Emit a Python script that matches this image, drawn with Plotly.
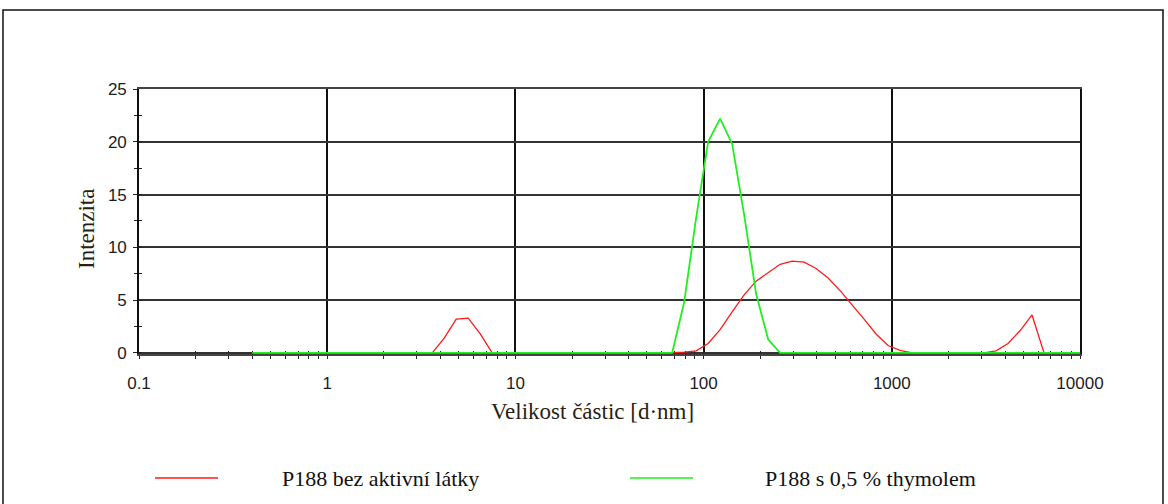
import plotly.graph_objects as go

# Size bins (d.nm), Zetasizer log-spaced classes 0.4 .. 10000
size_nm = [0.4, 0.4632, 0.5365, 0.6213, 0.7195, 0.8332, 0.9649, 1.117, 1.294, 1.499,
           1.736, 2.010, 2.328, 2.696, 3.122, 3.615, 4.187, 4.849, 5.615, 6.503,
           7.531, 8.721, 10.10, 11.70, 13.54, 15.69, 18.17, 21.04, 24.36, 28.21,
           32.67, 37.84, 43.82, 50.75, 58.77, 68.06, 78.82, 91.28, 105.7, 122.4,
           141.8, 164.2, 190.1, 220.2, 255.0, 295.3, 342.0, 396.1, 458.7, 531.2,
           615.1, 712.4, 825.0, 955.4, 1106, 1281, 1484, 1718, 1990, 2305,
           2669, 3091, 3580, 4145, 4801, 5560, 6439, 7456, 8635, 10000]

# Intensity (%) - P188 without active substance
intensity_p188 = [0, 0, 0, 0, 0, 0, 0, 0, 0, 0,
                  0, 0, 0, 0, 0, 0, 1.4, 3.2, 3.3, 1.8,
                  0, 0, 0, 0, 0, 0, 0, 0, 0, 0,
                  0, 0, 0, 0, 0, 0.03, 0.08, 0.2, 0.9, 2.2,
                  3.9, 5.5, 6.8, 7.6, 8.4, 8.7, 8.6, 8.0, 7.1, 5.9,
                  4.6, 3.2, 1.8, 0.7, 0.25, 0, 0, 0, 0, 0,
                  0, 0, 0.2, 0.9, 2.1, 3.6, 0, 0, 0, 0]

# Intensity (%) - P188 with 0.5 % thymol
intensity_thymol = [0, 0, 0, 0, 0, 0, 0, 0, 0, 0,
                    0, 0, 0, 0, 0, 0, 0, 0, 0, 0,
                    0, 0, 0, 0, 0, 0, 0, 0, 0, 0,
                    0, 0, 0, 0, 0, 0, 4.8, 12.8, 20.0, 22.2,
                    19.8, 13.1, 5.6, 1.3, 0, 0, 0, 0, 0, 0,
                    0, 0, 0, 0, 0, 0, 0, 0, 0, 0,
                    0, 0, 0, 0, 0, 0, 0, 0, 0, 0]

series_names = ["P188 bez aktivní látky", "P188 s 0,5 % thymolem"]
series_colors = ["#ff1a1a", "#22ee22"]

x_tickvals = [0.1, 1, 10, 100, 1000, 10000]
x_ticktext = ["0.1", "1", "10", "100", "1000", "10000"]
y_tickvals = [0, 5, 10, 15, 20, 25]

x_minor = [m * 10 ** e for e in range(-1, 4) for m in range(2, 10)]
y_minor = [2.5, 7.5, 12.5, 17.5, 22.5]

W, H = 1168, 504
L, R, T, B = 139, 88, 89, 150
PW, PH = W - L - R, H - T - B
Y_RANGE = [-0.1, 25]


def px(xp):
    return (xp - L) / PW


def py(yp):
    return (T + PH - yp) / PH


fig = go.Figure()
fig.add_trace(go.Scatter(x=size_nm, y=intensity_p188, mode="lines",
                         line=dict(color=series_colors[0], width=1.3),
                         name=series_names[0], showlegend=False))
fig.add_trace(go.Scatter(x=size_nm, y=intensity_thymol, mode="lines",
                         line=dict(color=series_colors[1], width=1.8),
                         name=series_names[1], showlegend=False))
# empty trace to activate the overlay axes (inside tick halves)
fig.add_trace(go.Scatter(x=[], y=[], xaxis="x2", yaxis="y2", showlegend=False))

tickfont = dict(family="Liberation Sans, Arial", size=17, color="#1c1c24")

fig.update_layout(
    width=W, height=H,
    margin=dict(l=L, r=R, t=T, b=B),
    paper_bgcolor="white", plot_bgcolor="white",
    showlegend=False,
    xaxis=dict(type="log", range=[-1, 4], tickmode="array", tickvals=x_tickvals,
               ticktext=x_ticktext, tickfont=tickfont, ticks="outside", ticklen=3,
               tickcolor="#222", showgrid=True, gridcolor="#111", gridwidth=1.6,
               showline=True, linecolor="#444", linewidth=2, mirror=True,
               zeroline=False, ticklabelstandoff=10, layer="below traces",
               minor=dict(tickmode="array", tickvals=x_minor, ticks="outside",
                          ticklen=3, tickcolor="#222", showgrid=False)),
    yaxis=dict(range=Y_RANGE, tickmode="array", tickvals=y_tickvals,
               tickfont=tickfont, ticks="outside", ticklen=4, tickcolor="#222",
               showgrid=True, gridcolor="#333", gridwidth=1.6,
               showline=True, linecolor="#111", linewidth=1.6, mirror=True,
               zeroline=False, ticklabelstandoff=3, layer="below traces",
               minor=dict(tickmode="array", tickvals=y_minor, ticks="outside",
                          ticklen=3, tickcolor="#222", showgrid=False)),
    xaxis2=dict(type="log", range=[-1, 4], overlaying="x", anchor="y", side="bottom",
                showticklabels=False, showgrid=False, showline=False, zeroline=False,
                tickmode="array", tickvals=x_tickvals, ticks="inside", ticklen=3,
                tickcolor="#222", layer="below traces",
                minor=dict(tickmode="array", tickvals=x_minor, ticks="inside",
                           ticklen=3, tickcolor="#222", showgrid=False)),
    yaxis2=dict(range=Y_RANGE, overlaying="y", anchor="x", side="left",
                showticklabels=False, showgrid=False, showline=False, zeroline=False,
                tickmode="array", tickvals=y_tickvals, ticks="inside", ticklen=3,
                tickcolor="#222", layer="below traces",
                minor=dict(tickmode="array", tickvals=y_minor, ticks="inside",
                           ticklen=3, tickcolor="#222", showgrid=False)),
)

title_font = dict(family="Liberation Serif, Times New Roman", size=23, color="#2a1e12")
legend_font = dict(family="Liberation Serif, Times New Roman", size=22, color="#111")

fig.add_annotation(text="Intenzita", xref="paper", yref="paper", x=px(86), y=py(229),
                   showarrow=False, textangle=-90, font=title_font,
                   xanchor="center", yanchor="middle")
fig.add_annotation(text="Velikost částic [d·nm]", xref="paper", yref="paper",
                   x=px(592), y=py(411), showarrow=False, font=title_font,
                   xanchor="center", yanchor="middle")

# legend drawn manually
legend_pos = [(155, 218, 280), (630, 693, 763)]
for (x0, x1, xt), name, col in zip(legend_pos, series_names, series_colors):
    fig.add_shape(type="line", xref="paper", yref="paper", x0=px(x0), x1=px(x1),
                  y0=py(478), y1=py(478), line=dict(color=col, width=1.6))
    fig.add_annotation(text=name, xref="paper", yref="paper", x=px(xt), y=py(478),
                       showarrow=False, font=legend_font, xanchor="left",
                       yanchor="middle")

# outer frame
fig.add_shape(type="rect", xref="paper", yref="paper", x0=px(3), x1=px(1163),
              y0=py(520), y1=py(10), line=dict(color="#111", width=1.5),
              fillcolor="rgba(0,0,0,0)", layer="below")

fig.write_html("out.html")
